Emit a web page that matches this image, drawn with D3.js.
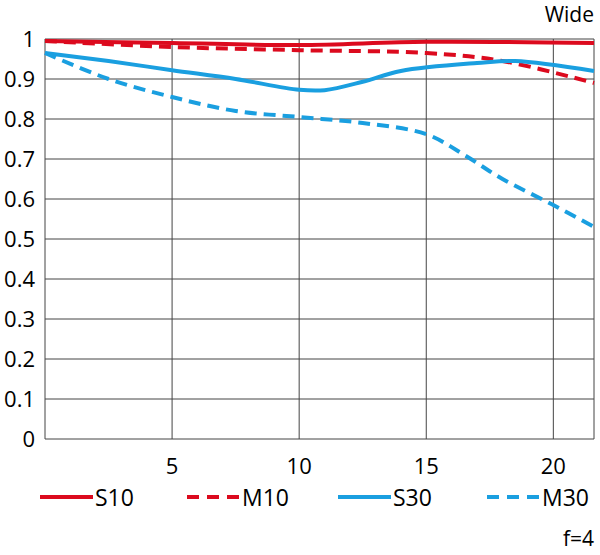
<!DOCTYPE html>
<html><head><meta charset="utf-8">
<script src="https://d3js.org/d3.v7.min.js"></script>
<style>body{margin:0;background:#fff}text{font-family:"Open Sans",sans-serif}</style>
</head><body><svg id="c" width="600" height="555"></svg>
<script>
const xTicks = [5, 10, 15, 20];
const yTicks = [0, 0.1, 0.2, 0.3, 0.4, 0.5, 0.6, 0.7, 0.8, 0.9, 1];
const s10 = [[0,0.995],[5,0.99],[10,0.985],[15,0.993],[21.6,0.99]];
const m10 = [[0,0.995],[5,0.98],[10,0.972],[15,0.965],[18,0.945],[21.6,0.89]];
const s30 = [[0,0.965],[2.5,0.945],[5,0.922],[7.5,0.9],[10,0.873],[11,0.872],[12.5,0.893],[14,0.92],[17,0.94],[18.5,0.945],[21.6,0.92]];
const m30 = [[0,0.965],[2.5,0.9],[5,0.855],[7.5,0.82],[10,0.805],[12.5,0.79],[15,0.762],[16.5,0.71],[18,0.65],[20,0.585],[21.6,0.53]];
const series = [
  {name:'S10', data:s10, color:'#dc0a1e', dash:null},
  {name:'M10', data:m10, color:'#dc0a1e', dash:'12,7'},
  {name:'S30', data:s30, color:'#1a9fe0', dash:null},
  {name:'M30', data:m30, color:'#1a9fe0', dash:'12,7'}
];

const svg = d3.select('#c');
const x = d3.scaleLinear().domain([0, 21.6]).range([45, 594]);
const y = d3.scaleLinear().domain([0, 1]).range([439, 39]);

// grid
svg.append('g').selectAll('line').data(yTicks).enter().append('line')
  .attr('x1', 45).attr('x2', 594).attr('y1', d => y(d)).attr('y2', d => y(d))
  .attr('stroke', '#444').attr('stroke-width', 1);
svg.append('g').selectAll('line').data(xTicks).enter().append('line')
  .attr('x1', d => x(d)).attr('x2', d => x(d)).attr('y1', 39).attr('y2', 439)
  .attr('stroke', '#444').attr('stroke-width', 1);
svg.append('line').attr('x1', 45).attr('x2', 45).attr('y1', 39).attr('y2', 439).attr('stroke', '#444');
svg.append('line').attr('x1', 594).attr('x2', 594).attr('y1', 39).attr('y2', 439).attr('stroke', '#444');

// tick labels
svg.append('g').selectAll('text').data(yTicks).enter().append('text')
  .attr('x', 35).attr('y', d => y(d) + 8).attr('text-anchor', 'end')
  .attr('font-size', 22).text(d => d === 0 || d === 1 ? d : d.toFixed(1));
svg.append('g').selectAll('text').data(xTicks).enter().append('text')
  .attr('x', d => x(d)).attr('y', 474).attr('text-anchor', 'middle')
  .attr('font-size', 22).text(d => d);

// curves
const line = d3.line().x(d => x(d[0])).y(d => y(d[1])).curve(d3.curveCatmullRom);
svg.append('g').selectAll('path').data(series).enter().append('path')
  .attr('d', d => line(d.data)).attr('fill', 'none')
  .attr('stroke', d => d.color).attr('stroke-width', 4)
  .attr('stroke-dasharray', d => d.dash);

// legend
const lg = svg.append('g').selectAll('g').data(series).enter().append('g')
  .attr('transform', (d, i) => `translate(${[40, 187, 338, 487][i]},497)`);
lg.append('line').attr('x1', 0).attr('x2', 53).attr('y1', 0).attr('y2', 0)
  .attr('stroke', d => d.color).attr('stroke-width', 4).attr('stroke-dasharray', d => d.dash ? '12,8' : null);
lg.append('text').attr('x', 55).attr('y', 9).attr('font-size', 23).text(d => d.name);

svg.append('text').attr('x', 594).attr('y', 22).attr('text-anchor', 'end').attr('font-size', 21).text('Wide');
svg.append('text').attr('x', 594).attr('y', 546).attr('text-anchor', 'end').attr('font-size', 21).text('f=4');
</script></body></html>
